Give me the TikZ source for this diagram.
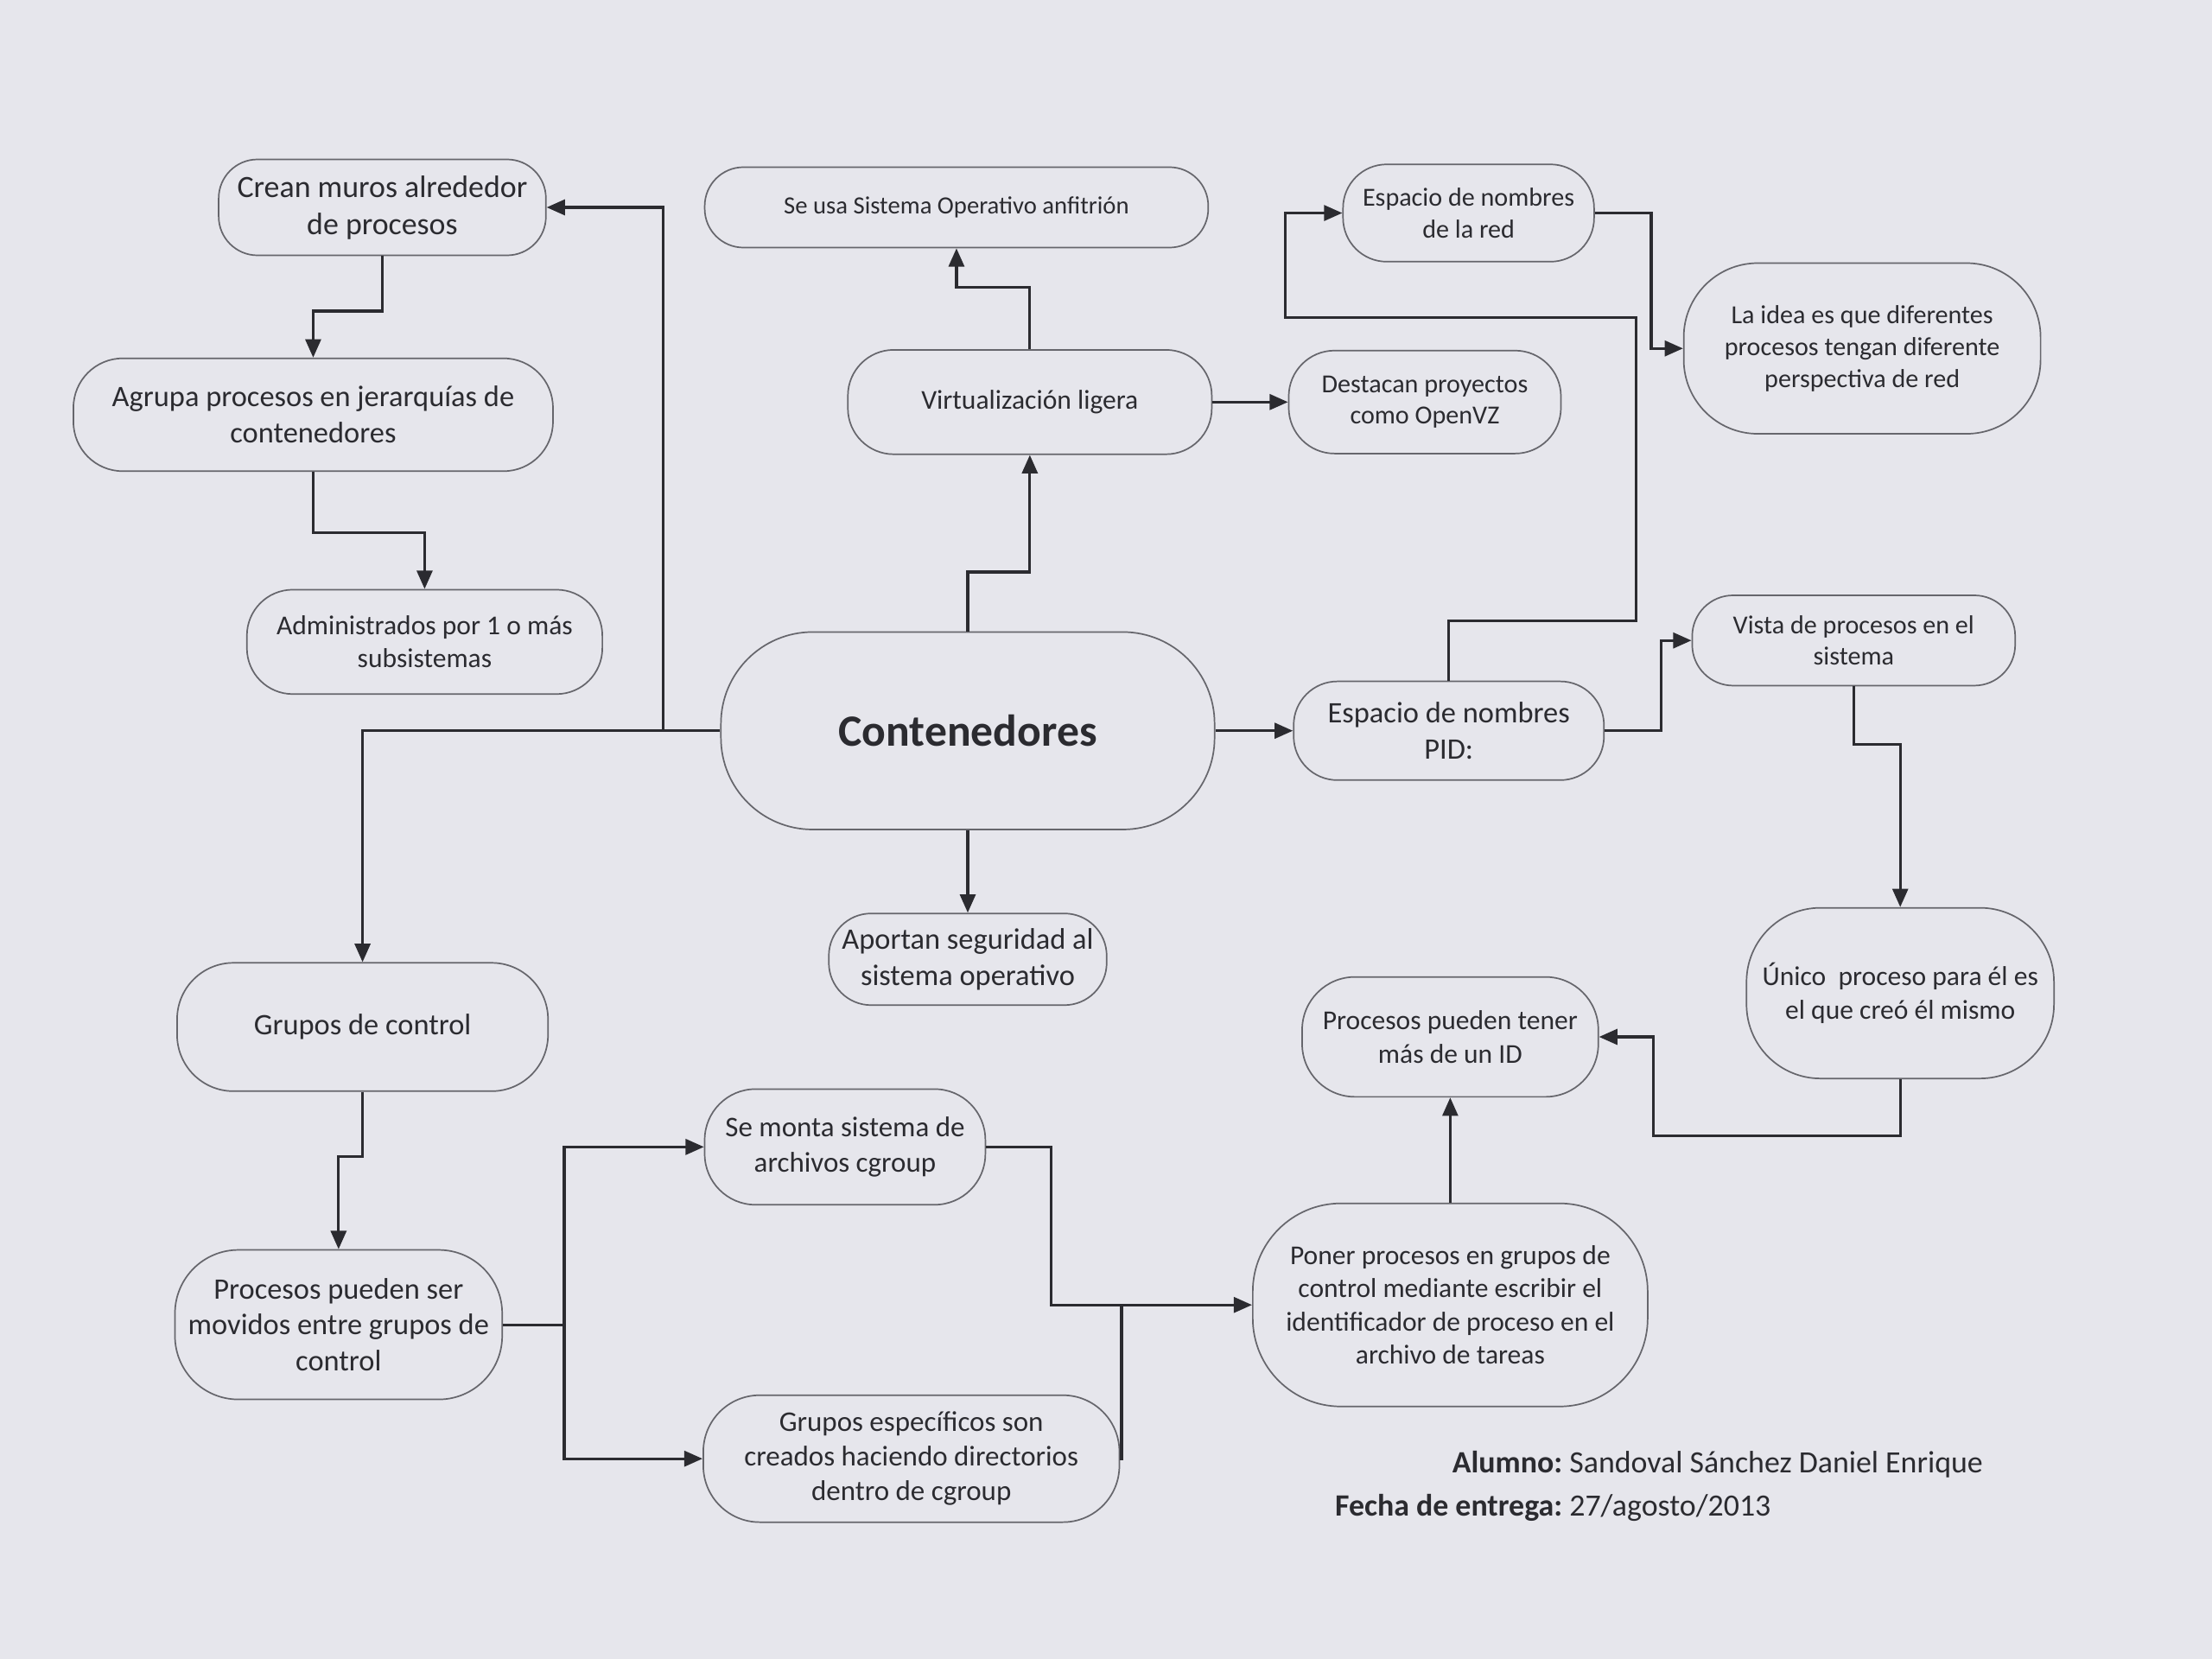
\documentclass[tikz,border=0pt]{standalone}
\usepackage{fontspec}
\setmainfont{Carlito}
\usetikzlibrary{arrows.meta}
\definecolor{paper}{HTML}{E6E6EC}
\definecolor{ink}{HTML}{2B2B30}
\definecolor{rim}{HTML}{66666C}

\begin{document}
\begin{tikzpicture}[x=0.02cm,y=-0.02cm]
  \tikzset{
    box/.style={draw=rim, line width=0.6pt, rounded corners=0.55cm, align=center, text=ink, inner sep=2pt},
    link/.style={draw=ink, line width=1.1pt},
    arr/.style={link, -{Triangle[length=2.6mm,width=2.2mm]}},
    f10/.style={font=\fontsize{10}{12.2}\selectfont},
    f105/.style={font=\fontsize{10.5}{12.8}\selectfont},
    f11/.style={font=\fontsize{11}{13.4}\selectfont},
    f115/.style={font=\fontsize{11.5}{14}\selectfont},
    f12/.style={font=\fontsize{12}{14.6}\selectfont},
    f125/.style={font=\fontsize{12.5}{15}\selectfont}
  }
  \fill[paper] (0,0) rectangle (1568,1176);

  \node[box, f125, minimum width=4.64cm, minimum height=1.36cm] (crean) at (271,147) {Crean muros alrededor\\de procesos};
  \node[box, f12, minimum width=6.8cm, minimum height=1.6cm, rounded corners=0.7cm] (agrupa) at (222,294) {Agrupa procesos en jerarquías de\\contenedores};
  \node[box, f11, minimum width=5.04cm, minimum height=1.48cm, rounded corners=0.65cm] (admin) at (301,455) {Administrados por 1 o más\\subsistemas};
  \node[box, f10, minimum width=7.14cm, minimum height=1.14cm] (anfitrion) at (678,147) {Se usa Sistema Operativo anfitrión};
  \node[box, f11, minimum width=5.16cm, minimum height=1.48cm, rounded corners=0.65cm] (virt) at (730,285) {Virtualización ligera};
  \node[box, f105, minimum width=3.86cm, minimum height=1.46cm, rounded corners=0.65cm] (openvz) at (1010,285) {Destacan proyectos\\como OpenVZ};
  \node[box, f105, minimum width=3.56cm, minimum height=1.38cm, rounded corners=0.62cm] (red) at (1041,151) {Espacio de nombres\\de la red};
  \node[box, f105, minimum width=5.06cm, minimum height=2.42cm, rounded corners=1.05cm] (idea) at (1320,247) {La idea es que diferentes\\procesos tengan diferente\\perspectiva de red};
  \node[box, font=\fontsize{18}{22}\selectfont\bfseries, minimum width=7cm, minimum height=2.8cm, rounded corners=1.3cm] (cont) at (686,518) {Contenedores};
  \node[box, f12, minimum width=4.4cm, minimum height=1.4cm, rounded corners=0.62cm] (pid) at (1027,518) {Espacio de nombres\\PID:};
  \node[box, f105, minimum width=4.58cm, minimum height=1.28cm, rounded corners=0.58cm] (vista) at (1314,454) {Vista de procesos en el\\sistema};
  \node[box, f12, minimum width=3.94cm, minimum height=1.3cm, rounded corners=0.6cm] (aportan) at (686,680) {Aportan seguridad al\\sistema operativo};
  \node[box, f11, minimum width=4.36cm, minimum height=2.42cm, rounded corners=1.05cm] (unico) at (1347,704) {Único\ \ proceso para él es\\el que creó él mismo};
  \node[box, f11, minimum width=4.2cm, minimum height=1.7cm, rounded corners=0.75cm] (tener) at (1028,735) {Procesos pueden tener\\más de un ID};
  \node[box, f12, minimum width=5.26cm, minimum height=1.82cm, rounded corners=0.8cm] (gctrl) at (257,728) {Grupos de control};
  \node[box, f12, minimum width=4.64cm, minimum height=2.12cm, rounded corners=0.9cm] (movidos) at (240,939) {Procesos pueden ser\\movidos entre grupos de\\control};
  \node[box, f115, minimum width=3.98cm, minimum height=1.64cm, rounded corners=0.72cm] (montar) at (599,813) {Se monta sistema de\\archivos cgroup};
  \node[box, f115, minimum width=5.9cm, minimum height=1.8cm, rounded corners=0.8cm] (especificos) at (646,1034) {Grupos específicos son\\creados haciendo directorios\\dentro de cgroup};
  \node[box, f11, minimum width=5.6cm, minimum height=2.88cm, rounded corners=1.25cm] (poner) at (1028,925) {Poner procesos en grupos de\\control mediante escribir el\\identificador de proceso en el\\archivo de tareas};

  \node[anchor=north west, f125, text=ink, inner sep=0pt] (firma) at (946,1025)
    {\begin{tabular}{@{}r@{\ }l@{}}\textbf{Alumno:} & Sandoval Sánchez Daniel Enrique\\[2.6pt]
     \textbf{Fecha de entrega:} & 27/agosto/2013\end{tabular}};

  \coordinate (jl) at (470,518);
  \draw[link] (cont.west) -- (jl);
  \draw[arr] (jl) |- (crean.east);
  \draw[arr] (jl) -| (gctrl.north);
  \draw[arr] (crean.south) -- ++(0,39) -| (agrupa.north);
  \draw[arr] (agrupa.south) -- ++(0,43) -| (admin.north);
  \draw[arr] (cont.north) -- ++(0,-42) -| (virt.south);
  \draw[arr] (virt.north) -- ++(0,-44) -| (anfitrion.south);
  \draw[arr] (virt.east) -- (openvz.west);
  \draw[arr] (cont.east) -- (pid.west);
  \draw[arr] (cont.south) -- (aportan.north);
  \draw[arr] (pid.north) |- (1160,440) |- (911,225) |- (red.west);
  \draw[arr] (red.east) -- ++(40,0) |- (idea.west);
  \draw[arr] (pid.east) -- ++(40,0) |- (vista.west);
  \draw[arr] (vista.south) -- ++(0,41) -| (unico.north);
  \draw[arr] (unico.south) |- (1172,805) |- (tener.east);
  \draw[arr] (poner.north) -- (tener.south);
  \draw[arr] (gctrl.south) -- ++(0,46) -| (movidos.north);
  \coordinate (jm) at (400,939);
  \draw[link] (movidos.east) -- (jm);
  \draw[arr] (jm) |- (montar.west);
  \draw[arr] (jm) |- (especificos.west);
  \draw[arr] (montar.east) -- ++(46,0) |- (poner.west);
  \coordinate (jp) at (795,925);
  \draw[link] (especificos.east) -| (jp);
\end{tikzpicture}
\end{document}
